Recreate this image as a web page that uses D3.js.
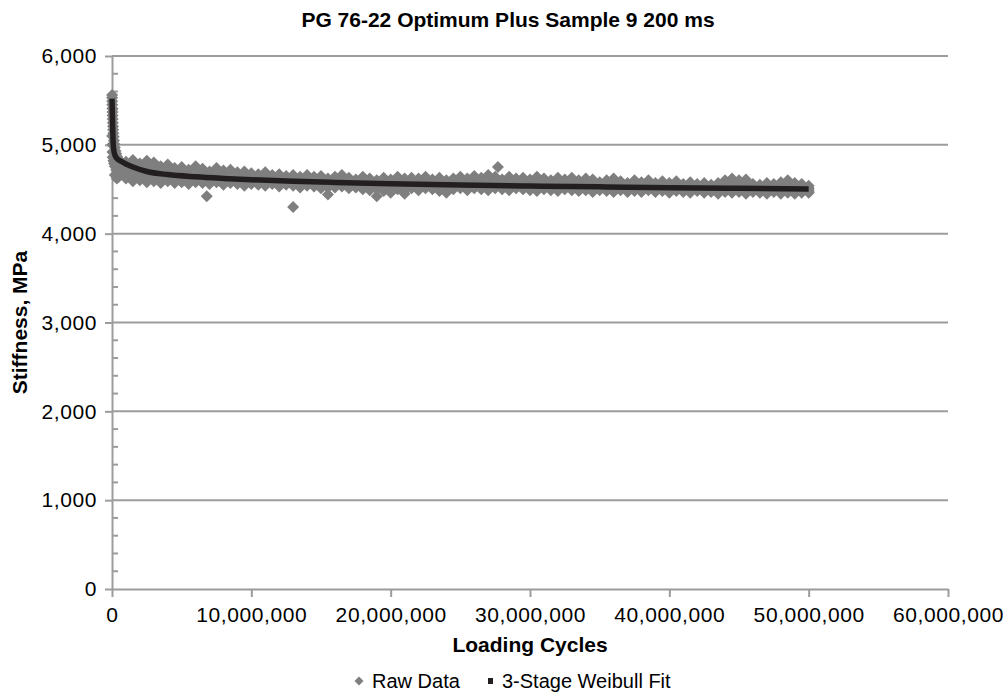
<!DOCTYPE html>
<html>

<head>
    <title>Stiffness vs loading cycles</title>
    <script src="https://cdn.jsdelivr.net/npm/d3@7"></script>
    <style>
        body { margin: 0; background: #fff; }
        text { font-family: "Liberation Sans", Arial, Helvetica, sans-serif; fill: #000; }
    </style>
</head>

<body>
    <svg width="1003" height="696" id="mainsvg"></svg>
    <script>
        // ---- data ----
        const chartTitle = 'PG 76-22 Optimum Plus Sample 9 200 ms';
        const xTitle = 'Loading Cycles';
        const yTitle = 'Stiffness, MPa';
        const seriesNames = ['Raw Data', '3-Stage Weibull Fit'];
        const xTicks = [0, 10e6, 20e6, 30e6, 40e6, 50e6, 60e6];
        const yTicks = [0, 1000, 2000, 3000, 4000, 5000, 6000];

        // first few thousand cycles: [cycles in millions, stiffness]
        const rawEarly = [
            [0.005, 5560], [0.01, 5530], [0.015, 5490], [0.02, 5450], [0.03, 5410], [0.035, 5370],
            [0.04, 5330], [0.05, 5290], [0.06, 5250], [0.07, 5210], [0.08, 5170], [0.1, 5130],
            [0.12, 5090], [0.14, 5050], [0.16, 5010], [0.2, 4970], [0.25, 4930], [0.3, 4900],
            [0.35, 4870], [0.4, 4850], [0.45, 4840],
            [0.01, 5100], [0.02, 5000], [0.03, 4920], [0.05, 4860], [0.1, 4820], [0.15, 4790],
            [0.2, 4760], [0.3, 4720], [0.4, 4700], [0.2, 4660], [0.35, 4620]
        ];
        // [cycles in millions, then readings from highest to lowest]
        const rawRows = [
            [0.5, 4830, 4790, 4760, 4700, 4640], [1.0, 4810, 4770, 4740, 4680, 4620],
            [1.5, 4830, 4770, 4720, 4650, 4590], [2.0, 4790, 4750, 4700, 4650, 4600],
            [2.5, 4820, 4750, 4690, 4630, 4580], [3.0, 4800, 4740, 4680, 4640, 4590],
            [3.5, 4760, 4710, 4670, 4620, 4570], [4.0, 4780, 4720, 4660, 4620, 4590],
            [4.5, 4740, 4700, 4650, 4610, 4570], [5.0, 4750, 4700, 4660, 4620, 4580],
            [5.5, 4720, 4680, 4640, 4600, 4560], [6.0, 4760, 4690, 4630, 4610, 4580],
            [6.5, 4730, 4680, 4640, 4600, 4570], [7.0, 4700, 4660, 4620, 4590, 4560],
            [7.5, 4740, 4680, 4630, 4600, 4580], [8.0, 4710, 4660, 4610, 4580, 4550],
            [8.5, 4720, 4670, 4620, 4590, 4570], [9.0, 4690, 4650, 4600, 4580, 4560],
            [9.5, 4700, 4650, 4610, 4570, 4540], [10.0, 4680, 4640, 4600, 4580, 4560],
            [10.5, 4670, 4630, 4590, 4570, 4550], [11.0, 4690, 4640, 4600, 4570, 4540],
            [11.5, 4660, 4620, 4590, 4570, 4560], [12.0, 4670, 4620, 4580, 4550, 4530],
            [12.5, 4650, 4620, 4590, 4570, 4550], [13.0, 4660, 4620, 4580, 4560, 4540],
            [13.5, 4640, 4600, 4570, 4540, 4520], [14.0, 4660, 4620, 4580, 4560, 4540],
            [14.5, 4640, 4600, 4570, 4550, 4530], [15.0, 4650, 4600, 4560, 4530, 4510],
            [15.5, 4620, 4590, 4570, 4520, 4440], [16.0, 4640, 4600, 4560, 4540, 4520],
            [16.5, 4660, 4610, 4570, 4550, 4530], [17.0, 4630, 4590, 4550, 4530, 4510],
            [17.5, 4610, 4580, 4560, 4540, 4520], [18.0, 4640, 4590, 4550, 4520, 4500],
            [18.5, 4620, 4590, 4560, 4520, 4490], [19.0, 4600, 4580, 4550, 4500, 4420],
            [19.5, 4630, 4590, 4550, 4510, 4480], [20.0, 4610, 4570, 4540, 4500, 4460],
            [20.5, 4640, 4590, 4550, 4520, 4500], [21.0, 4620, 4580, 4540, 4490, 4450],
            [21.5, 4630, 4590, 4550, 4530, 4510], [22.0, 4620, 4580, 4540, 4510, 4490],
            [22.5, 4640, 4590, 4550, 4530, 4510], [23.0, 4610, 4570, 4540, 4520, 4500],
            [23.5, 4630, 4590, 4550, 4510, 4480], [24.0, 4600, 4570, 4540, 4500, 4460],
            [24.5, 4620, 4580, 4545, 4520, 4500], [25.0, 4640, 4590, 4540, 4520, 4510],
            [25.5, 4620, 4580, 4550, 4520, 4490], [26.0, 4650, 4600, 4540, 4520, 4510],
            [26.5, 4630, 4580, 4545, 4520, 4500], [27.0, 4660, 4600, 4540, 4510, 4490],
            [27.5, 4640, 4590, 4530, 4520, 4510], [28.0, 4610, 4570, 4540, 4520, 4500],
            [28.5, 4640, 4580, 4530, 4510, 4490], [29.0, 4620, 4580, 4540, 4520, 4510],
            [29.5, 4630, 4580, 4530, 4510, 4500], [30.0, 4610, 4570, 4535, 4510, 4490],
            [30.5, 4640, 4580, 4530, 4500, 4480], [31.0, 4620, 4580, 4540, 4520, 4500],
            [31.5, 4600, 4560, 4530, 4510, 4490], [32.0, 4630, 4570, 4525, 4500, 4480],
            [32.5, 4610, 4570, 4530, 4510, 4500], [33.0, 4630, 4580, 4525, 4510, 4490],
            [33.5, 4600, 4560, 4520, 4500, 4480], [34.0, 4620, 4570, 4530, 4510, 4490],
            [34.5, 4610, 4560, 4520, 4490, 4470], [35.0, 4580, 4550, 4525, 4510, 4490],
            [35.5, 4600, 4560, 4520, 4500, 4480], [36.0, 4620, 4570, 4530, 4500, 4470],
            [36.5, 4590, 4550, 4515, 4500, 4490], [37.0, 4570, 4540, 4520, 4490, 4470],
            [37.5, 4600, 4550, 4515, 4500, 4480], [38.0, 4580, 4550, 4520, 4490, 4470],
            [38.5, 4600, 4550, 4510, 4500, 4490], [39.0, 4570, 4540, 4515, 4490, 4470],
            [39.5, 4590, 4550, 4510, 4500, 4480], [40.0, 4570, 4540, 4515, 4490, 4460],
            [40.5, 4590, 4550, 4510, 4490, 4480], [41.0, 4560, 4530, 4505, 4490, 4470],
            [41.5, 4580, 4540, 4515, 4490, 4460], [42.0, 4560, 4530, 4505, 4490, 4480],
            [42.5, 4570, 4540, 4510, 4480, 4460], [43.0, 4550, 4530, 4500, 4490, 4470],
            [43.5, 4570, 4540, 4510, 4480, 4450], [44.0, 4600, 4550, 4505, 4490, 4470],
            [44.5, 4620, 4560, 4510, 4480, 4460], [45.0, 4600, 4550, 4500, 4490, 4470],
            [45.5, 4610, 4550, 4505, 4470, 4450], [46.0, 4560, 4530, 4500, 4490, 4470],
            [46.5, 4550, 4530, 4505, 4480, 4460], [47.0, 4570, 4530, 4500, 4470, 4450],
            [47.5, 4560, 4530, 4495, 4480, 4470], [48.0, 4580, 4540, 4500, 4470, 4450],
            [48.5, 4600, 4550, 4495, 4480, 4460], [49.0, 4570, 4530, 4500, 4470, 4450],
            [49.5, 4560, 4520, 4490, 4480, 4460], [50.0, 4540, 4510, 4490, 4470, 4460]
        ];
        // stray readings
        const rawOutliers = [[6.8, 4420], [13.0, 4300], [27.7, 4750]];

        // fitted curve: [cycles, stiffness]
        const fitPoints = [
            [0, 5520], [20000, 5400], [40000, 5250], [60000, 5130], [90000, 5000], [150000, 4920],
            [250000, 4870], [400000, 4840], [700000, 4810], [1000000, 4785], [1500000, 4750],
            [2500000, 4700], [4000000, 4665], [6000000, 4640], [8000000, 4622], [10000000, 4607],
            [13000000, 4590], [16000000, 4577], [20000000, 4562], [25000000, 4548], [30000000, 4537],
            [35000000, 4527], [40000000, 4518], [45000000, 4511], [50000000, 4504]
        ];

        // ---- build the raw series ----
        const raw = [];
        rawEarly.forEach(d => raw.push({ c: d[0] * 1e6, s: d[1] }));
        rawRows.forEach(r => {
            for (let i = 1; i < r.length; i++) raw.push({ c: r[0] * 1e6, s: r[i] });
        });
        rawOutliers.forEach(d => raw.push({ c: d[0] * 1e6, s: d[1] }));

        const svg = d3.select('svg');
        const gridColor = '#9c9c9c';
        const rawColor = '#7f7f7f';
        const fitColor = '#231f20';
        const fontStack = '"Liberation Sans", Arial, sans-serif';

        const x = d3.scaleLinear().domain([0, 60e6]).range([112, 948]);
        const y = d3.scaleLinear().domain([0, 6000]).range([589, 56]);

        // horizontal gridlines
        svg.selectAll('.grid').data(yTicks.filter(d => d > 0)).join('line').attr('class', 'grid')
            .attr('x1', x(0)).attr('x2', x(60e6))
            .attr('y1', y).attr('y2', y)
            .attr('stroke', gridColor).attr('stroke-width', 2);

        // y axis: major ticks outside, minor ticks inside
        const yAxis = svg.append('g').attr('transform', `translate(${x(0)},0)`)
            .call(d3.axisLeft(y).tickValues(yTicks).tickSize(7).tickFormat(d3.format(',')).tickSizeOuter(0));
        yAxis.select('.domain').attr('stroke', gridColor).attr('stroke-width', 2);
        yAxis.selectAll('.tick line').attr('stroke', gridColor).attr('stroke-width', 2);
        yAxis.selectAll('.tick text').attr('font-size', 21).attr('x', -15)
            .style('font-family', fontStack).style('letter-spacing', '0.6px');
        const minorY = d3.range(200, 6000, 200).filter(d => d % 1000 !== 0);
        svg.selectAll('.minorY').data(minorY).join('line').attr('class', 'minorY')
            .attr('x1', x(0)).attr('x2', x(0) + 6)
            .attr('y1', y).attr('y2', y)
            .attr('stroke', gridColor).attr('stroke-width', 2);

        // x axis
        const xAxis = svg.append('g').attr('transform', `translate(0,${y(0)})`)
            .call(d3.axisBottom(x).tickValues(xTicks).tickSize(8).tickFormat(d3.format(',')).tickSizeOuter(0));
        xAxis.select('.domain').attr('stroke', gridColor).attr('stroke-width', 2);
        xAxis.selectAll('.tick line').attr('stroke', gridColor).attr('stroke-width', 2);
        xAxis.selectAll('.tick text').attr('font-size', 21).attr('y', 18)
            .style('font-family', fontStack).style('letter-spacing', '0.6px');

        // raw data diamonds
        const diamond = r => `M0,${-r}L${r},0L0,${r}L${-r},0Z`;
        svg.append('g').selectAll('path').data(raw).join('path')
            .attr('d', diamond(6))
            .attr('transform', d => `translate(${x(d.c)},${y(d.s)})`)
            .attr('fill', rawColor);

        // fitted curve
        const line = d3.line().x(d => x(d[0])).y(d => y(d[1])).curve(d3.curveMonotoneX);
        svg.append('path').datum(fitPoints)
            .attr('d', line).attr('fill', 'none')
            .attr('stroke', fitColor).attr('stroke-width', 5.5)
            .attr('stroke-linejoin', 'round');

        // titles
        svg.append('text').attr('x', 508).attr('y', 27).attr('text-anchor', 'middle')
            .attr('font-size', 21).attr('font-weight', 'bold').text(chartTitle);
        svg.append('text').attr('x', (x(0) + x(60e6)) / 2).attr('y', 652).attr('text-anchor', 'middle')
            .attr('font-size', 21).attr('font-weight', 'bold').text(xTitle);
        svg.append('text').attr('transform', `translate(27,${(y(0) + y(6000)) / 2}) rotate(-90)`)
            .attr('text-anchor', 'middle')
            .attr('font-size', 21).attr('font-weight', 'bold').text(yTitle);

        // legend
        const legend = svg.append('g');
        legend.append('path').attr('d', diamond(4.5)).attr('transform', 'translate(359,681)').attr('fill', rawColor);
        legend.append('text').attr('x', 372).attr('y', 688).attr('font-size', 20).text(seriesNames[0]);
        legend.append('rect').attr('x', 488).attr('y', 678).attr('width', 5).attr('height', 6).attr('fill', fitColor);
        legend.append('text').attr('x', 502).attr('y', 688).attr('font-size', 20).text(seriesNames[1]);
    </script>
</body>

</html>
